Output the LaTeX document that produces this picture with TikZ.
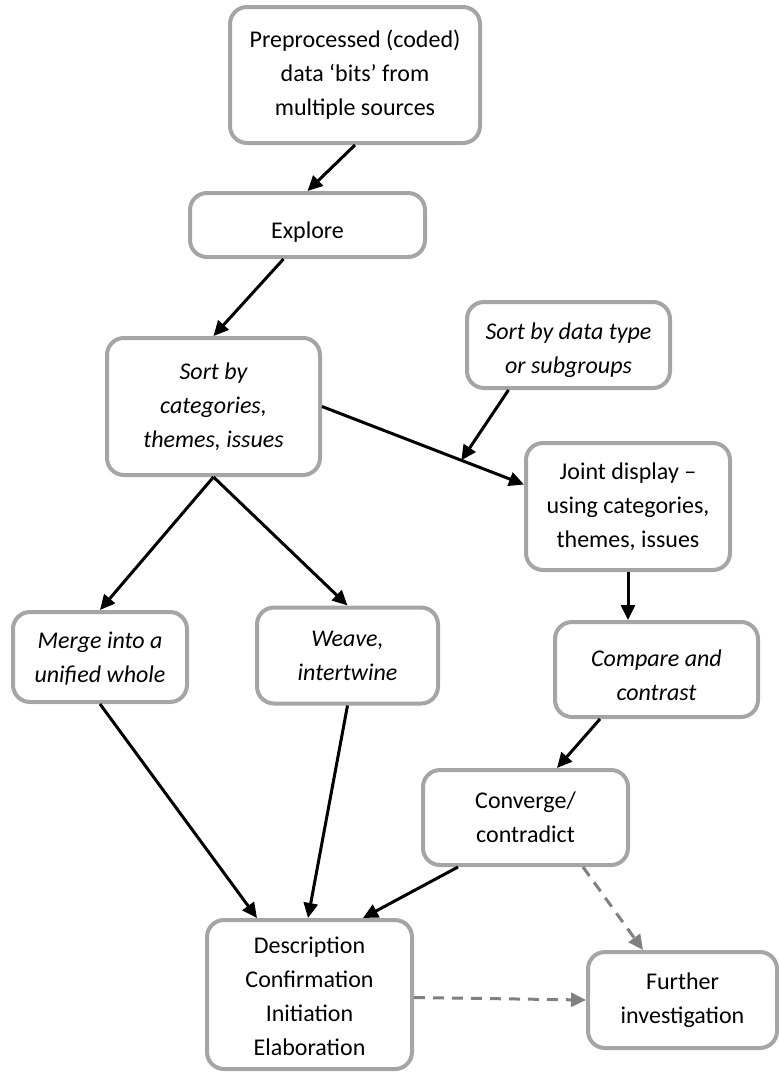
\documentclass[tikz,border=0pt]{standalone}
\usepackage{fontspec}
\setmainfont{Carlito}
\usetikzlibrary{arrows.meta}
\definecolor{boxgray}{RGB}{165,165,165}
\definecolor{dashgray}{RGB}{128,128,128}
\newcommand{\lowered}[2]{\raisebox{-#1}[\height][\depth]{#2}}
\begin{document}
\begin{tikzpicture}[x=1pt,y=-1pt,
  stage/.style={draw=boxgray, line width=4pt, rounded corners=17pt, fill=white,
    align=center, inner sep=0pt, font=\fontsize{24}{34}\selectfont},
  istage/.style={stage, font=\fontsize{24}{34}\selectfont\itshape},
  flow/.style={line width=3pt, -{Triangle[length=15pt,width=14pt]}},
  maybe/.style={line width=3pt, draw=dashgray, dash pattern=on 11pt off 8pt,
    -{Triangle[length=15pt,width=14pt,fill=dashgray]}}]
\useasboundingbox (0,0) rectangle (779,1072);

% stages
\node[stage, minimum width=250pt, minimum height=136pt] (pre) at (355,75)
  {Preprocessed (coded)\\data ‘bits’ from\\multiple sources};
\node[stage, minimum width=235pt, minimum height=64pt] (explore) at (307.5,225)
  {\lowered{7pt}{Explore}};
\node[istage, minimum width=213pt, minimum height=137pt] (sortcat) at (213.5,406.5)
  {Sort by\\categories,\\themes, issues};
\node[istage, minimum width=203pt, minimum height=86pt] (sorttype) at (568.5,345)
  {\lowered{5pt}{\begin{tabular}{@{}c@{}}Sort by data type\\or subgroups\end{tabular}}};
\node[stage, minimum width=204pt, minimum height=127pt] (joint) at (628,506.5)
  {Joint display –\\using categories,\\themes, issues};
\node[istage, minimum width=174pt, minimum height=90pt] (merge) at (100,657)
  {\lowered{2pt}{\begin{tabular}{@{}c@{}}Merge into a\\unified whole\end{tabular}}};
\node[istage, minimum width=181pt, minimum height=96pt] (weave) at (347.5,655.5)
  {Weave,\\intertwine};
\node[istage, minimum width=203pt, minimum height=95pt] (compare) at (656.5,669.5)
  {\lowered{7pt}{\begin{tabular}{@{}c@{}}Compare and\\contrast\end{tabular}}};
\node[stage, minimum width=205pt, minimum height=95pt] (converge) at (525.5,817.5)
  {Converge/\\contradict};
\node[stage, minimum width=205pt, minimum height=149pt] (desc) at (309.5,994.5)
  {\lowered{3pt}{\begin{tabular}{@{}c@{}}Description\\Confirmation\\Initiation\\Elaboration\end{tabular}}};
\node[stage, minimum width=189pt, minimum height=96pt] (further) at (682.5,1000)
  {Further\\investigation};

% point where the subgroup arrow meets the joint-display connector
\path (sortcat.east) -- coordinate[pos=0.69] (meet) ([yshift=22pt]joint.west);

% connectors
\draw[flow] (pre.south) -- (explore.north);
\draw[flow] ([xshift=-24pt]explore.south) -- (sortcat.north);
\draw[flow] (sortcat.east) -- ([yshift=22pt]joint.west);
\draw[flow] ([xshift=-60pt]sorttype.south) -- (meet);
\draw[flow] (sortcat.south) -- (merge.north);
\draw[flow] (sortcat.south) -- (weave.north);
\draw[flow] (joint.south) -- (joint.south |- compare.north);
\draw[flow] ([xshift=-56.5pt]compare.south) -- ([xshift=31.5pt]converge.north);
\draw[flow] (merge.south) -- ([xshift=-52.5pt]desc.north);
\draw[flow] (weave.south) -- ([xshift=-1.5pt]desc.north);
\draw[flow] ([xshift=-67.5pt]converge.south) -- ([xshift=53.5pt]desc.north);
\draw[maybe] ([xshift=57.5pt]converge.south) -- ([xshift=-39.5pt]further.north);
\draw[maybe] ([yshift=-3pt]desc.east) -- (further.west);
\end{tikzpicture}
\end{document}
